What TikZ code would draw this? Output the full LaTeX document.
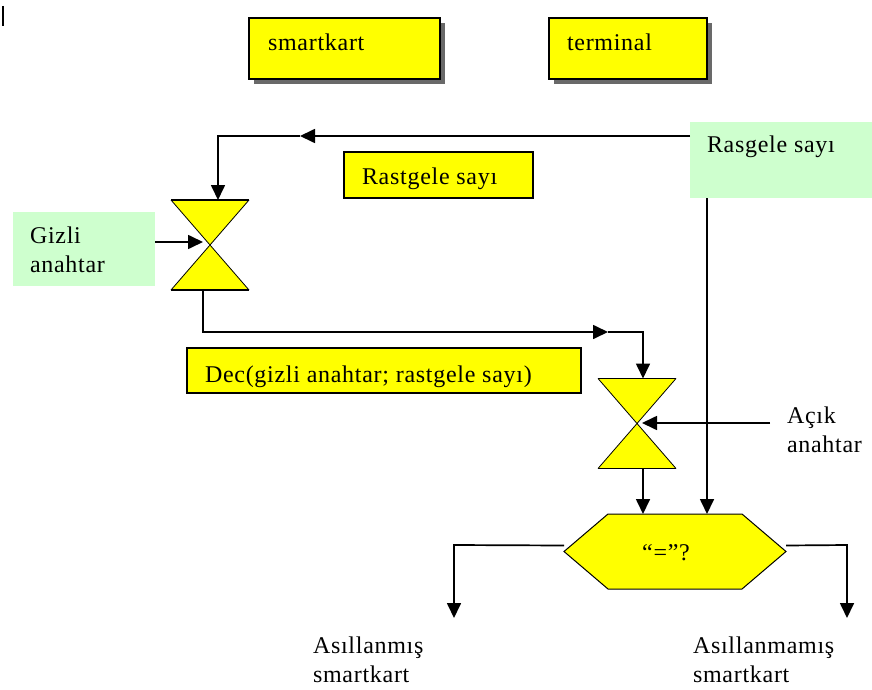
\documentclass[tikz,border=0pt]{standalone}
\usepackage{fontspec}
\setmainfont{Liberation Serif}[LetterSpace=3]
\usetikzlibrary{arrows.meta,shadows}
\definecolor{boxyellow}{RGB}{255,255,0}
\definecolor{keygreen}{RGB}{206,255,206}
\definecolor{shadowgray}{RGB}{105,105,105}

\begin{document}
\begin{tikzpicture}[x=1pt,y=-1pt,
  every node/.style={font=\fontsize{24}{29}\selectfont, inner sep=0pt, outer sep=0pt},
  txt/.style={anchor=base west, align=left},
  ybox/.style={draw, line width=1.6pt, fill=boxyellow, anchor=north west},
  shadowed/.style={drop shadow={shadow xshift=5pt, shadow yshift=-5pt, fill=shadowgray, opacity=1}},
  gbox/.style={fill=keygreen, anchor=north west},
  flow/.style={line width=1.7pt},
  arr/.style={flow, -{Triangle[length=15pt,width=14pt]}},
  glassframe/.style={minimum width=78pt, minimum height=90pt},
  hexframe/.style={minimum width=222pt, minimum height=75pt},
]
\useasboundingbox (0,0) rectangle (872,690);

% text cursor mark
\draw[line width=1.3pt] (3,6) -- (3,26);

% legend boxes
\node[ybox, shadowed, minimum width=191pt, minimum height=61pt] (sk) at (249,18) {};
\node[txt] (skt) at (268,51) {smartkart};
\node[ybox, shadowed, minimum width=158pt, minimum height=61pt] (tm) at (549,18) {};
\node[txt] (tmt) at (567,51) {terminal};

% inputs (two-line labels are placed by the baseline of their last line)
\node[gbox, minimum width=190pt, minimum height=76pt] (rg) at (690,122) {};
\node[txt] (rgt) at (707,153) {Rasgele sayı};
\node[gbox, minimum width=142pt, minimum height=74pt] (gz) at (13,212) {};
\node[txt] (gzt) at (30,272) {Gizli\\anahtar};
\node[txt] (ak) at (787,452) {Açık\\anahtar};

% message boxes
\node[ybox, line width=1.2pt, minimum width=189pt, minimum height=46pt] (rs) at (344,152) {};
\node[txt] (rst) at (362,184) {Rastgele sayı};
\node[ybox, line width=1.2pt, minimum width=394pt, minimum height=45pt] (dc) at (187,348) {};
\node[txt] (dct) at (205,382) {Dec(gizli anahtar; rastgele sayı)};

% hourglass operators
\foreach \h/\pos in {h1/{(210,245)}, h2/{(637,423.5)}} {
  \node[glassframe] (\h) at \pos {};
  \path[fill=boxyellow] (\h.north west) -- (\h.north east) -- (\h.south west) -- (\h.south east) -- cycle;
  \draw[line width=0.8pt] (\h.north east) -- (\h.south west) (\h.north west) -- (\h.south east);
  \draw[line width=1.6pt] (\h.north west) -- (\h.north east) (\h.south west) -- (\h.south east);
}

% comparison
\node[hexframe] (hx) at (675,551.5) {};
\draw[fill=boxyellow, line width=1pt] (hx.west) -- ([xshift=44pt]hx.north west) -- ([xshift=-44pt]hx.north east)
  -- (hx.east) -- ([xshift=-44pt]hx.south east) -- ([xshift=44pt]hx.south west) -- cycle;
\node[anchor=base] (eq) at (666,560) {“=”?};

% results
\node[txt] (ok) at (313,682) {Asıllanmış\\smartkart};
\node[txt] (nok) at (693,682) {Asıllanmamış\\smartkart};

% routing points
\coordinate (a1) at (300,136);
\coordinate (c1) at (218,136);
\coordinate (b1) at (203,332);
\coordinate (a2) at (608,332);
\coordinate (c2) at (643,332);
\coordinate (xr) at (707,0);
\coordinate (akin) at (770,423);
\coordinate (akend) at (642,423);
\coordinate (gzend) at (203,242);
\coordinate (lft) at (454,545);
\coordinate (rgt) at (847,545);
\coordinate (lend) at (454,618);
\coordinate (rend) at (847,618);

% connectors
\draw[arr] ([yshift=-14pt]rg.north west) -- (a1);
\draw[arr] (a1) -- (c1) -- (c1 |- h1.north);
\draw[arr] (gz.east |- gzend) -- (gzend);
\draw[arr] (h1.south -| b1) -- (b1) -- (a2);
\draw[arr] (a2) -- (c2) -- (c2 |- h2.north);
\draw[arr] (akin) -- (akend);
\draw[arr] (h2.south -| c2) -- (hx.north -| c2);
\draw[arr] (rg.south -| xr) -- (hx.north -| xr);
\draw[arr] ([yshift=6pt]hx.west) -- (lft) -- (lend);
\draw[arr] ([yshift=6pt]hx.east) -- (rgt) -- (rend);
\end{tikzpicture}
\end{document}
